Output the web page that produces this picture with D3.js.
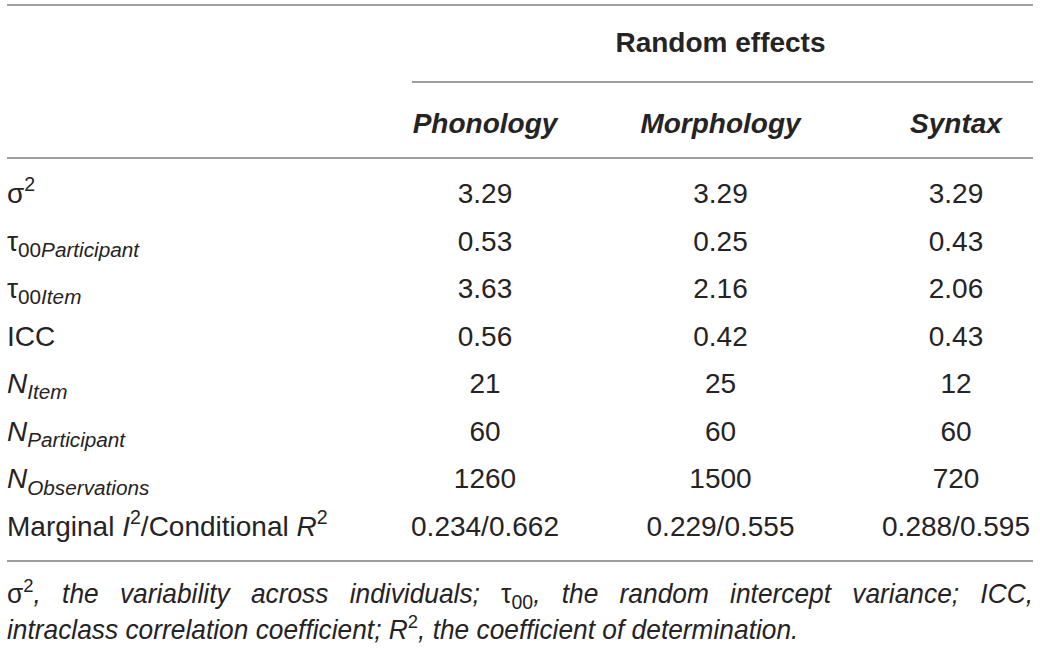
<!DOCTYPE html>
<html lang="en">
<head>
<meta charset="UTF-8">
<title>Random effects</title>
<script src="https://d3js.org/d3.v7.min.js"></script>
<style>
  body { margin: 0; background: #fff; }
  svg { display: block; font-family: "Liberation Sans", Helvetica, Arial, sans-serif; }
</style>
</head>
<body>
<svg id="tbl" width="1040" height="650"></svg>
<script>
// column headers and the values in each column
const groupTitle = "Random effects";
const columns = ["Phonology", "Morphology", "Syntax"];
const phonology = ["3.29", "0.53", "3.63", "0.56", "21", "60", "1260", "0.234/0.662"];
const morphology = ["3.29", "0.25", "2.16", "0.42", "25", "60", "1500", "0.229/0.555"];
const syntax = ["3.29", "0.43", "2.06", "0.43", "12", "60", "720", "0.288/0.595"];

// row labels, as runs of [text, style]
const rowLabels = [
  [["σ", "n"], ["2", "sup"]],
  [["τ", "n"], ["00", "sub"], ["Participant", "subi"]],
  [["τ", "n"], ["00", "sub"], ["Item", "subi"]],
  [["ICC", "n"]],
  [["N", "i"], ["Item", "subi"]],
  [["N", "i"], ["Participant", "subi"]],
  [["N", "i"], ["Observations", "subi"]],
  [["Marginal ", "n"], ["I", "i"], ["2", "sup"], ["/Conditional ", "n"], ["R", "i"], ["2", "sup"]]
];

const footLines = [
  [["σ", "n"], ["2", "sup"], [", the variability across individuals; ", "i"], ["τ", "n"], ["00", "sub"],
   [", the random intercept variance; ICC,", "i"]],
  [["intraclass correlation coefficient; ", "i"], ["R", "i"], ["2", "sup"], [", the coefficient of determination.", "i"]]
];

const left = 7, right = 1033;
const fs = 28;
const ink = "#262324", rule = "#7d7d7d";

const svg = d3.select("#tbl");
const cols = [phonology, morphology, syntax];

const x = d3.scalePoint().domain(columns).range([485, 956]);
const y = d3.scalePoint().domain(d3.range(rowLabels.length)).range([203, 536]);

// horizontal rules
const rules = [
  {x1: left, x2: right, y: 5},
  {x1: 412, x2: right, y: 82},
  {x1: left, x2: right, y: 158},
  {x1: left, x2: right, y: 561}
];
svg.selectAll("line.rule").data(rules).enter().append("line")
  .attr("class", "rule")
  .attr("x1", d => d.x1).attr("x2", d => d.x2)
  .attr("y1", d => d.y).attr("y2", d => d.y)
  .attr("stroke", rule).attr("stroke-width", 1.5);

svg.append("text")
  .attr("x", (x(columns[0]) + x(columns[2])) / 2).attr("y", 52)
  .attr("text-anchor", "middle").attr("font-size", fs).attr("font-weight", "bold")
  .attr("fill", ink).text(groupTitle);

svg.selectAll("text.colhead").data(columns).enter().append("text")
  .attr("class", "colhead")
  .attr("x", d => x(d)).attr("y", 133)
  .attr("text-anchor", "middle").attr("font-size", fs)
  .attr("font-weight", "bold").attr("font-style", "italic")
  .attr("fill", ink).text(d => d);

// write runs with sub/superscripts into a text element
function runs(text, parts, size) {
  let shift = 0;
  parts.forEach(([t, s]) => {
    let target = 0, k = 1, it = false;
    if (s === "sup") { target = -0.42 * size; k = 0.7; }
    if (s === "sub" || s === "subi") { target = 0.22 * size; k = 0.74; }
    if (s === "i" || s === "subi") it = true;
    text.append("tspan")
      .attr("dy", target - shift)
      .attr("font-size", size * k)
      .attr("font-style", it ? "italic" : "normal")
      .text(t);
    shift = target;
  });
}

svg.selectAll("text.rowlabel").data(rowLabels).enter().append("text")
  .attr("class", "rowlabel")
  .attr("x", left).attr("y", (d, i) => y(i))
  .attr("fill", ink)
  .each(function (d) { runs(d3.select(this), d, fs); });

columns.forEach((c, j) => {
  svg.selectAll("text.cell" + j).data(cols[j]).enter().append("text")
    .attr("class", "cell" + j)
    .attr("x", x(c)).attr("y", (d, i) => y(i))
    .attr("text-anchor", "middle").attr("font-size", fs)
    .attr("fill", ink).text(d => d);
});

// footnote, slightly squeezed, first line justified
const footY = [603, 639];
const sx = 0.975;
footLines.forEach((parts, i) => {
  const t = svg.append("g")
    .attr("transform", `translate(${left},${footY[i]}) scale(${sx},1)`)
    .append("text")
    .attr("x", 0).attr("y", 0)
    .attr("font-size", 27).attr("fill", ink);
  runs(t, parts, 27);
  if (i === 0) {
    const natural = t.node().getComputedTextLength();
    const spaces = parts.map(p => p[0]).join("").split(" ").length - 1;
    t.attr("word-spacing", ((right - left) / sx - natural) / spaces);
  }
});
</script>
</body>
</html>
